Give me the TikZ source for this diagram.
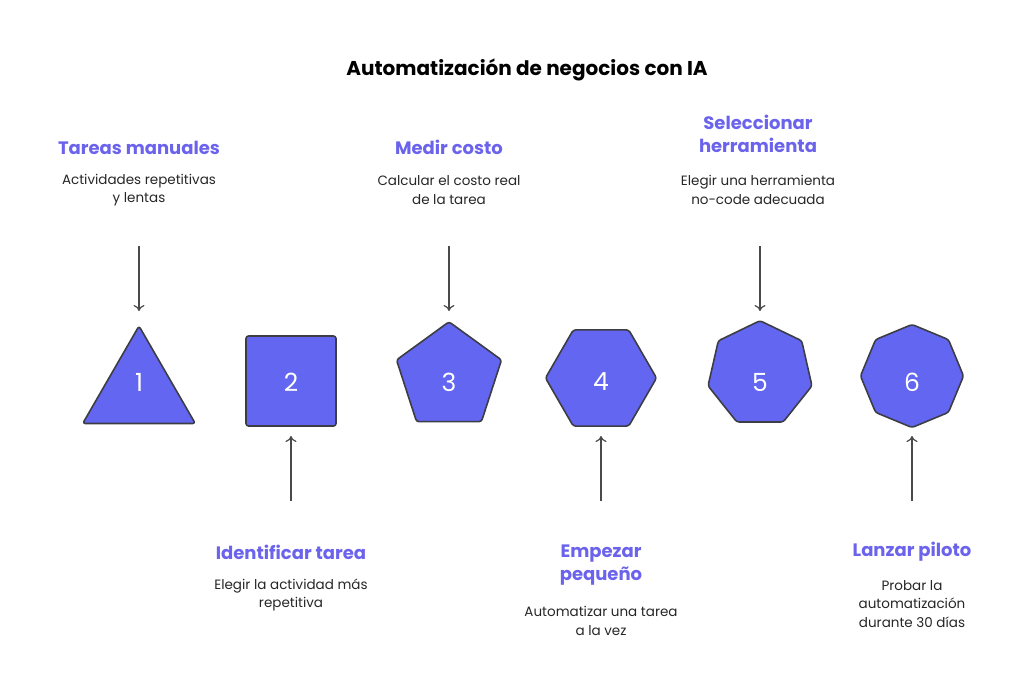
\documentclass[tikz,border=0pt]{standalone}
\usepackage{fontspec}
\setmainfont{Poppins}
\usetikzlibrary{shapes.geometric,arrows.meta}
\definecolor{ind}{HTML}{6366F1}
\definecolor{ttl}{HTML}{6B63EC}
\definecolor{edge}{HTML}{3D3D45}
\definecolor{arr}{HTML}{4A4A4A}
\begin{document}
\begin{tikzpicture}[x=1pt,y=-1pt,
  shp/.style={fill=ind,draw=edge,line width=1.6pt,inner sep=0pt,line join=round,rounded corners=2.5pt},
  num/.style={text=white,font=\fontsize{25}{25}\selectfont},
  head/.style={text=ttl,font=\fontsize{18}{23}\selectfont\bfseries,align=center},
  body/.style={text=black!85,font=\fontsize{13.5}{18.5}\selectfont,align=center},
  ar/.style={draw=arr,line width=1.2pt,-{To[length=6pt,width=11pt]}}]
\useasboundingbox (0,0) rectangle (1024,690);
\node[font=\fontsize{20}{22}\selectfont\bfseries] (t) at (527,70) {Automatización de negocios con IA};
% shapes
\node[shp,regular polygon,regular polygon sides=3,minimum size=130] (s1) at (139,391) {};
\node[shp,rectangle,minimum size=90] (s2) at (291,381) {};
\node[shp,regular polygon,regular polygon sides=5,minimum size=110.4] (s3) at (449,377) {};
\node[shp,regular polygon,regular polygon sides=6,minimum size=111] (s4) at (601,378) {};
\node[shp,regular polygon,regular polygon sides=7,minimum size=106.6] (s5) at (760,374) {};
\node[shp,regular polygon,regular polygon sides=8,shape border rotate=22.5,minimum size=103] (s6) at (912,376) {};
\node[num] (n1) at (139,382) {1};
\node[num] (n2) at (291,382) {2};
\node[num] (n3) at (449,382) {3};
\node[num] (n4) at (601,382) {4};
\node[num] (n5) at (760,382) {5};
\node[num] (n6) at (912,382) {6};
% texts
\node[head] (h1) at (139,148) {Tareas manuales};
\node[body] (b1) at (139,190) {Actividades repetitivas\\y lentas};
\node[head] (h3) at (449,147) {Medir costo};
\node[body] (b3) at (449,190) {Calcular el costo real\\de la tarea};
\node[head] (h5) at (758,134) {Seleccionar\\herramienta};
\node[body] (b5) at (758,190) {Elegir una herramienta\\no-code adecuada};
\node[head] (h2) at (291,552) {Identificar tarea};
\node[body] (b2) at (291,595) {Elegir la actividad más\\repetitiva};
\node[head] (h4) at (601,565) {Empezar\\pequeño};
\node[body] (b4) at (601,621) {Automatizar una tarea\\a la vez};
\node[head] (h6) at (912,552) {Lanzar piloto};
\node[body] (b6) at (912,604) {Probar la\\automatización\\durante 30 días};
% arrows
\coordinate (a1) at (139,246); \coordinate (e1) at (139,311);
\coordinate (a3) at (449,246); \coordinate (e3) at (449,311);
\coordinate (a5) at (760,246); \coordinate (e5) at (760,311);
\coordinate (a2) at (291,501); \coordinate (e2) at (291,436);
\coordinate (a4) at (601,501); \coordinate (e4) at (601,436);
\coordinate (a6) at (912,501); \coordinate (e6) at (912,436);
\draw[ar] (a1) -- (e1);
\draw[ar] (a3) -- (e3);
\draw[ar] (a5) -- (e5);
\draw[ar] (a2) -- (e2);
\draw[ar] (a4) -- (e4);
\draw[ar] (a6) -- (e6);
\end{tikzpicture}
\end{document}
